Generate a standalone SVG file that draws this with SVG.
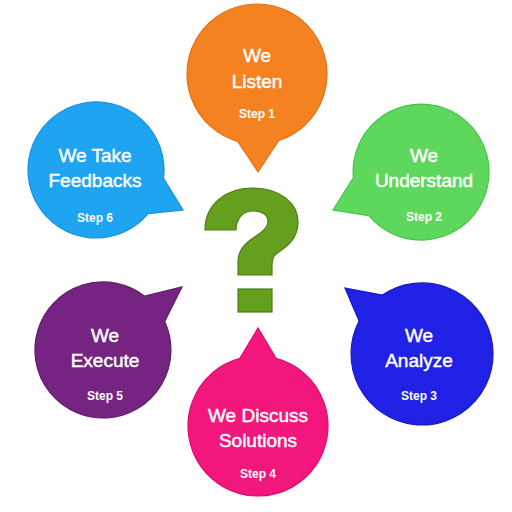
<svg xmlns="http://www.w3.org/2000/svg" width="512" height="512" viewBox="0 0 512 512">
<style>
.lbl{font-family:"Liberation Sans",Arial,sans-serif;font-size:19px;fill:#ffffff;stroke:#ffffff;stroke-width:0.45;text-anchor:middle}
.step{font-family:"Liberation Sans",Arial,sans-serif;font-size:12px;font-weight:bold;fill:#ffffff;text-anchor:middle}
.b{stroke-width:1.2}
</style>
<rect width="512" height="512" fill="#ffffff"/>
<g id="connectors"></g>
<g id="step1">
<path class="b" d="M278.6,140.6 L258,172 L237.7,141.3 A70,70 0 1 1 278.6,140.6 Z" fill="#f58220" stroke="#e2711a"/>
<text class="lbl" x="257" y="62">We</text>
<text class="lbl" x="257" y="88">Listen</text>
<text class="step" x="257" y="118">Step 1</text>
</g>
<g id="step2">
<path class="b" d="M368.9,215.7 L333,210 L353.3,177.9 A68,68 0 1 1 368.9,215.7 Z" fill="#5dd85d" stroke="#4cc24c"/>
<text class="lbl" x="424" y="162">We</text>
<text class="lbl" x="424" y="187">Understand</text>
<text class="step" x="424" y="221">Step 2</text>
</g>
<g id="step3">
<path class="b" d="M359.1,321.1 L345,288 L382.3,295.1 A71,71 0 1 1 359.1,321.1 Z" fill="#2121e6" stroke="#1818c8"/>
<text class="lbl" x="419" y="342">We</text>
<text class="lbl" x="419" y="367">Analyze</text>
<text class="step" x="419" y="400">Step 3</text>
</g>
<g id="step4">
<path class="b" d="M239.9,358.4 L258,328 L276.1,358.4 A70,70 0 1 1 239.9,358.4 Z" fill="#f2167d" stroke="#dc0f6c"/>
<text class="lbl" x="258" y="422">We Discuss</text>
<text class="lbl" x="258" y="447">Solutions</text>
<text class="step" x="258" y="478">Step 4</text>
</g>
<g id="step5">
<path class="b" d="M144.6,296.2 L182,287 L164.7,321.5 A68,68 0 1 1 144.6,296.2 Z" fill="#752481" stroke="#631a6e"/>
<text class="lbl" x="105" y="342">We</text>
<text class="lbl" x="105" y="367">Execute</text>
<text class="step" x="105" y="400">Step 5</text>
</g>
<g id="step6">
<path class="b" d="M163.5,178.3 L183,210 L148.1,213.7 A68,68 0 1 1 163.5,178.3 Z" fill="#1ea4f0" stroke="#168fdc"/>
<text class="lbl" x="95" y="162">We Take</text>
<text class="lbl" x="95" y="187">Feedbacks</text>
<text class="step" x="95" y="222">Step 6</text>
</g>
<g id="question">
<path d="M205,230 C205,205 225,188 252,188 C280,188 298,203 298,222 C298,240 285,248 276,254 C272,257 272,262 272,266 L272,275 L238,275 L238,262 C238,250 245,243 256,236 C264,231 268,227 268,222 C268,215 262,211 253,211 C243,211 236,218 236,230 Z" fill="#64a01e" stroke="#4a7d12" stroke-width="1.2"/>
<rect x="238" y="289" width="34" height="23" fill="#64a01e" stroke="#4a7d12" stroke-width="1.2"/>
</g>
</svg>
